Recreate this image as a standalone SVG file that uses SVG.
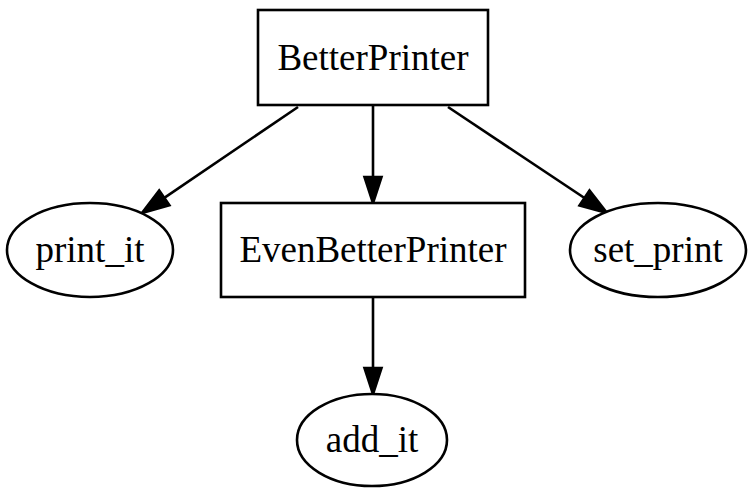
<svg xmlns="http://www.w3.org/2000/svg" width="753" height="488" viewBox="0 0 753 488">
<style>
.n{fill:#fff;stroke:#000;stroke-width:2.6}
.t{font-family:"Liberation Serif","Times New Roman",serif;font-size:37px;text-anchor:middle;fill:#000}
.e{stroke:#000;stroke-width:2.6;fill:none}
.h{fill:#000;stroke:#000;stroke-width:2.6;stroke-linejoin:miter}
</style>
<rect width="753" height="488" fill="#fff"/>
<g id="connectors">
<line class="e" x1="298" y1="107" x2="164.3" y2="197.8"/>
<polygon class="h" points="142,213 169.4,205.2 159.2,190.4"/>
<line class="e" x1="373" y1="106" x2="373" y2="177"/>
<polygon class="h" points="373,203 364.5,177 381.5,177"/>
<line class="e" x1="448" y1="107" x2="584.5" y2="198"/>
<polygon class="h" points="607,213 579.5,205.5 589.5,190.5"/>
<line class="e" x1="373" y1="298" x2="373" y2="368"/>
<polygon class="h" points="373,394 364.5,368 381.5,368"/>
</g>
<g id="BetterPrinter">
<rect class="n" x="258" y="10" width="230" height="95"/>
<text class="t" x="373" y="70">BetterPrinter</text>
</g>
<g id="print_it">
<ellipse class="n" cx="90" cy="250" rx="83" ry="47"/>
<text class="t" x="90" y="262">print_it</text>
</g>
<g id="EvenBetterPrinter">
<rect class="n" x="221" y="203" width="304" height="94"/>
<text class="t" x="373" y="262">EvenBetterPrinter</text>
</g>
<g id="set_print">
<ellipse class="n" cx="658" cy="250" rx="88" ry="47"/>
<text class="t" x="658" y="262">set_print</text>
</g>
<g id="add_it">
<ellipse class="n" cx="372" cy="440" rx="75" ry="46"/>
<text class="t" x="372" y="452">add_it</text>
</g>
</svg>
